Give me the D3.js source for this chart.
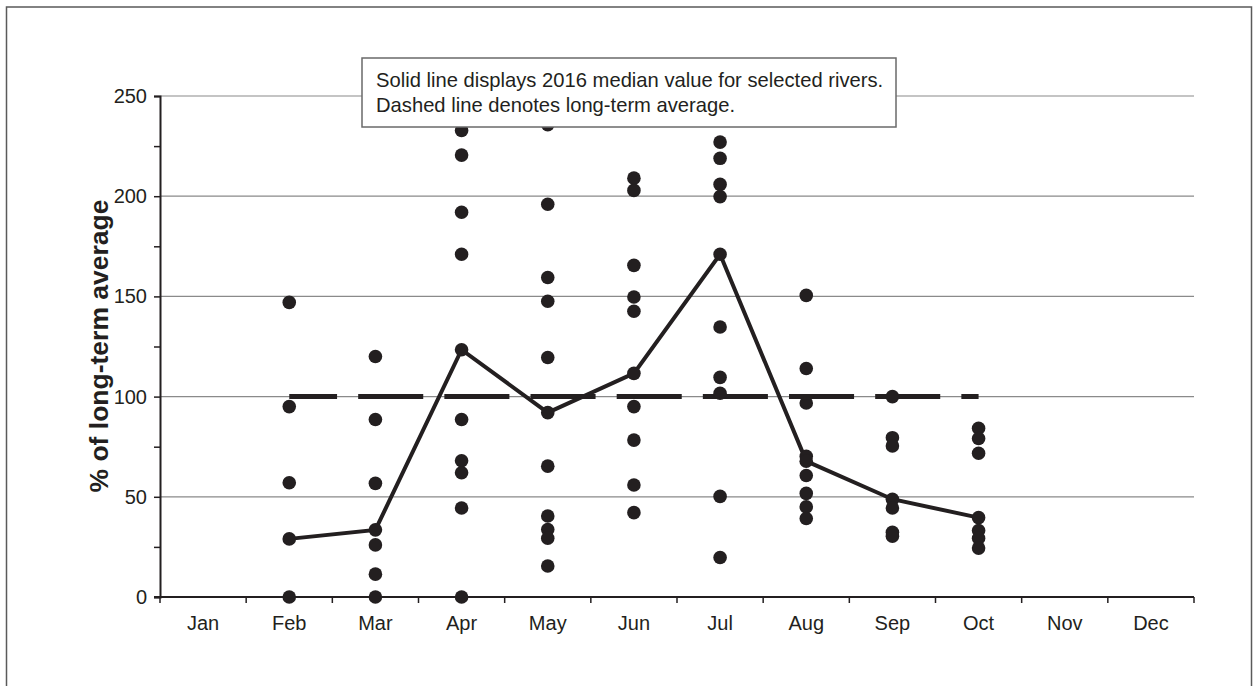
<!DOCTYPE html>
<html>
<head>
<meta charset="utf-8">
<script src="https://cdn.jsdelivr.net/npm/d3@7"></script>
<style>
  html, body { margin: 0; padding: 0; background: #fff; }
  svg { display: block; font-family: "Liberation Sans", Arial, sans-serif; }
</style>
</head>
<body>
<svg id="chart" width="1254" height="686"></svg>
<script>
// Months on the category axis
const months = ["Jan", "Feb", "Mar", "Apr", "May", "Jun", "Jul", "Aug", "Sep", "Oct", "Nov", "Dec"];

// Percent of long-term average flow, one value per river, by month (2016)
const febPct = [147, 95, 57, 29, 0];
const marPct = [120, 88.6, 56.7, 33.5, 26, 11.4, 0];
const aprPct = [232.8, 220.5, 192, 171, 123.4, 88.6, 68, 62, 44.4, 0];
const mayPct = [235.7, 196, 159.4, 147.6, 119.5, 92, 65.3, 40.4, 33.7, 29.3, 15.5];
const junPct = [209, 202.9, 165.5, 149.7, 142.6, 111.6, 95, 78.3, 55.9, 42.1];
const julPct = [227, 218.9, 205.9, 199.8, 171, 134.7, 109.6, 101.7, 50.2, 19.7];
const augPct = [150.5, 114, 96.8, 70.2, 67.8, 60.6, 51.7, 45, 39.2];
const sepPct = [100, 79.5, 75.4, 48.8, 44.4, 32.3, 30.3];
const octPct = [84.2, 79.1, 71.7, 39.6, 33.2, 29.3, 24.4];

// 2016 median of the selected rivers (solid line)
const medianPct = [null, 29, 33.5, 123.4, 92, 111.6, 171, 67.8, 48.8, 39.6, null, null];
// Long-term average reference (dashed line)
const longTermPct = [null, 100, 100, 100, 100, 100, 100, 100, 100, 100, null, null];

// Y axis ticks
const yTicks = [0, 25, 50, 75, 100, 125, 150, 175, 200, 225, 250];
const yLabelTicks = [0, 50, 100, 150, 200, 250];

const legendLines = [
  "Solid line displays 2016 median value for selected rivers.",
  "Dashed line denotes long-term average."
];
const yTitle = "% of long-term average";

const riverByMonth = [
  ["Feb", febPct], ["Mar", marPct], ["Apr", aprPct], ["May", mayPct], ["Jun", junPct],
  ["Jul", julPct], ["Aug", augPct], ["Sep", sepPct], ["Oct", octPct]
];

const ink = "#231f20";
const svg = d3.select("#chart");

// Outer frame
svg.append("rect")
  .attr("x", 6.5).attr("y", 7).attr("width", 1245).attr("height", 700)
  .attr("fill", "#fff").attr("stroke", "#5a5a5a").attr("stroke-width", 1.5);

const plot = { left: 160, right: 1194, top: 96, bottom: 597 };

const x = d3.scaleBand().domain(months).range([plot.left, plot.right]).padding(0);
const y = d3.scaleLinear().domain([0, 250]).range([plot.bottom, plot.top]);
const cx = m => x(m) + x.bandwidth() / 2;

// Horizontal gridlines
svg.append("g")
  .selectAll("line")
  .data(yLabelTicks.filter(v => v > 0))
  .join("line")
  .attr("x1", plot.left).attr("x2", plot.right)
  .attr("y1", d => y(d)).attr("y2", d => y(d))
  .attr("stroke", "#8a8a8a").attr("stroke-width", 1.2);

// Y axis
const yAxis = svg.append("g")
  .attr("transform", `translate(${plot.left},0)`)
  .call(d3.axisLeft(y).tickValues(yTicks).tickSize(6).tickPadding(7)
    .tickFormat(d => yLabelTicks.includes(d) ? d : ""));
yAxis.select(".domain").attr("stroke", ink).attr("stroke-width", 2);
yAxis.selectAll(".tick line").attr("stroke", ink).attr("stroke-width", 1.5);
yAxis.selectAll(".tick text")
  .attr("fill", ink).attr("font-size", 20)
  .attr("font-family", "'Liberation Sans', Arial, sans-serif");

// X axis: labels centred in each month, ticks on month boundaries
const xAxis = svg.append("g")
  .attr("transform", `translate(0,${plot.bottom})`)
  .call(d3.axisBottom(x).tickSize(0).tickPadding(19));
xAxis.select(".domain").remove();
xAxis.selectAll(".tick text")
  .attr("fill", ink).attr("font-size", 20)
  .attr("font-family", "'Liberation Sans', Arial, sans-serif");

const edges = months.map(m => x(m)).concat([plot.right]);
svg.append("g")
  .selectAll("line")
  .data(edges)
  .join("line")
  .attr("x1", d => d).attr("x2", d => d)
  .attr("y1", plot.bottom).attr("y2", plot.bottom + 6)
  .attr("stroke", ink).attr("stroke-width", 1.5);
svg.append("line")
  .attr("x1", plot.left - 6).attr("x2", plot.right)
  .attr("y1", plot.bottom).attr("y2", plot.bottom)
  .attr("stroke", ink).attr("stroke-width", 2);

// Long-term average dashed line
const bw = x.bandwidth();
const avgLine = d3.line()
  .defined(d => d.v != null)
  .x(d => cx(d.m)).y(d => y(d.v));
svg.append("path")
  .datum(months.map((m, i) => ({ m, v: longTermPct[i] })))
  .attr("d", avgLine)
  .attr("fill", "none").attr("stroke", ink).attr("stroke-width", 5)
  .attr("stroke-dasharray", `${bw * 0.755} ${bw * 0.245}`)
  .attr("stroke-dashoffset", bw * 0.2);

// Median solid line
svg.append("path")
  .datum(months.map((m, i) => ({ m, v: medianPct[i] })))
  .attr("d", avgLine)
  .attr("fill", "none").attr("stroke", ink).attr("stroke-width", 4)
  .attr("stroke-linejoin", "miter");

// River points
const points = riverByMonth.flatMap(([m, vals]) => vals.map(v => ({ m, v })));
svg.append("g")
  .selectAll("circle")
  .data(points)
  .join("circle")
  .attr("cx", d => cx(d.m)).attr("cy", d => y(d.v))
  .attr("r", 6.8).attr("fill", ink);

// Note box
const note = svg.append("g");
note.append("rect")
  .attr("x", 362).attr("y", 58).attr("width", 534).attr("height", 69)
  .attr("fill", "#fff").attr("stroke", "#6a6a6a").attr("stroke-width", 1.5);
note.selectAll("text")
  .data(legendLines)
  .join("text")
  .attr("x", 376).attr("y", (d, i) => 87 + i * 25)
  .attr("font-size", 20.2).attr("fill", ink)
  .text(d => d);

// Y axis title
svg.append("text")
  .attr("transform", "translate(108,346) rotate(-90)")
  .attr("text-anchor", "middle")
  .attr("font-size", 26.5).attr("font-weight", "bold").attr("fill", ink)
  .text(yTitle);
</script>
</body>
</html>
